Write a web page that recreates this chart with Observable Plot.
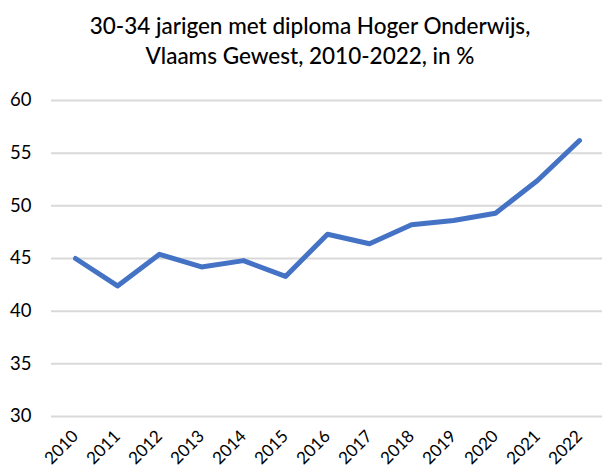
<!DOCTYPE html>
<html>
<head>
<meta charset="utf-8">
<script src="https://cdn.jsdelivr.net/npm/d3@7"></script>
<script src="https://cdn.jsdelivr.net/npm/@observablehq/plot@0.6"></script>
<style>
  html, body { margin: 0; padding: 0; background: #fff; }
  #title { width: 602px; height: 75px; box-sizing: border-box; padding-top: 11px; padding-left: 18px; text-align: center;
    font-family: "Lato", sans-serif; font-size: 22.5px; font-weight: 500; line-height: 30px; color: #000; }
  svg { display: block; }
</style>
</head>
<body>
<div id="title">30-34 jarigen met diploma Hoger Onderwijs,<br>Vlaams Gewest, 2010-2022, in %</div>
<div id="chart"></div>
<script>
const years = ["2010","2011","2012","2013","2014","2015","2016","2017","2018","2019","2020","2021","2022"];
const values = [45.0, 42.4, 45.4, 44.2, 44.8, 43.3, 47.3, 46.4, 48.2, 48.6, 49.3, 52.4, 56.2];
const yTicks = [30, 35, 40, 45, 50, 55, 60];

const data = years.map((y, i) => ({year: y, value: values[i]}));

const chart = Plot.plot({
  width: 602,
  height: 395,
  marginTop: 25,
  marginBottom: 54,
  marginLeft: 51,
  marginRight: 0,
  style: {fontFamily: "Lato, sans-serif", fontSize: "18px", color: "#000", background: "#fff"},
  x: {type: "point", domain: years, padding: 0.47},
  y: {domain: [30, 60]},
  marks: [
    Plot.ruleY(yTicks, {stroke: "#d9d9d9", strokeWidth: 2}),
    Plot.axisY({ticks: yTicks, tickSize: 0, tickPadding: 20, label: null, fontSize: 18.5}),
    Plot.axisX({tickSize: 0, tickRotate: -45, tickPadding: 17, label: null, fontSize: 17}),
    Plot.line(data, {x: "year", y: "value", stroke: "#4472C4", strokeWidth: 5, strokeLinecap: "round", strokeLinejoin: "round"})
  ]
});
document.getElementById("chart").appendChild(chart);
</script>
</body>
</html>
